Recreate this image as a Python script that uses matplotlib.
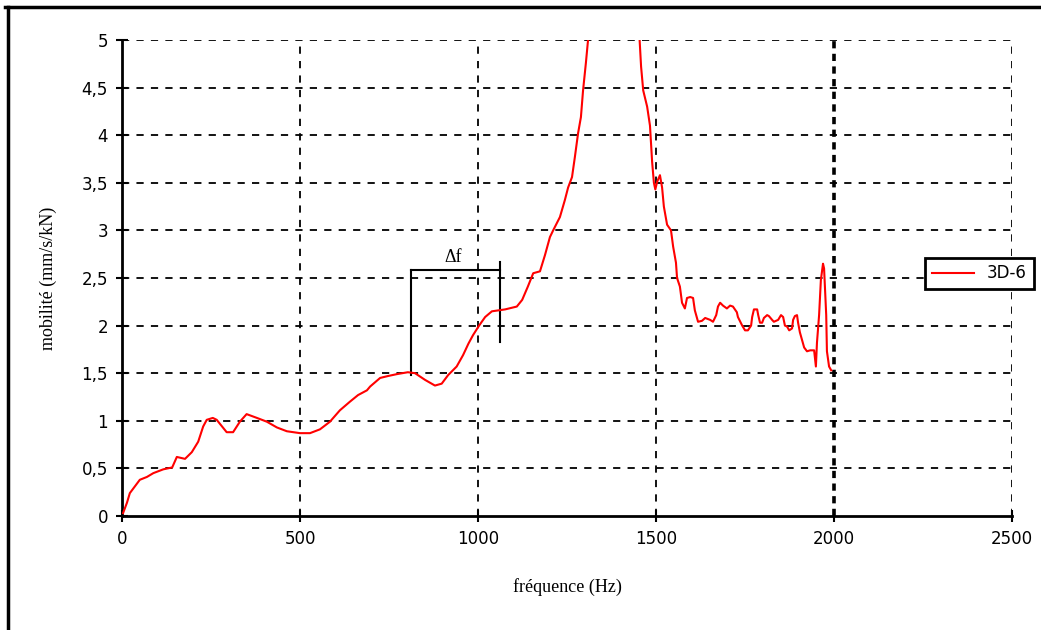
import matplotlib
matplotlib.use('Agg')
import matplotlib.pyplot as plt
from matplotlib.lines import Line2D
import numpy as np

# data (Hz, mm/s/kN)
freq = [3, 14, 22, 50, 70, 88, 116, 141, 154, 177, 196, 214, 228, 238, 255, 266, 294, 312,
        331, 350, 379, 407, 435, 463, 500, 528, 556, 584, 612, 640, 663, 688, 697, 725, 747,
        772, 803, 823, 851, 879, 898, 916, 940, 958, 973, 986, 1003, 1020, 1039, 1076, 1109,
        1124, 1140, 1155, 1174, 1188, 1202, 1211, 1230, 1244, 1253, 1264, 1272, 1281, 1289,
        1295, 1303, 1309, 1330, 1360, 1390, 1420, 1445, 1458, 1464, 1475, 1483, 1489, 1494,
        1498, 1503, 1511, 1517, 1522, 1531, 1542, 1548, 1556, 1559, 1567, 1573, 1581, 1587,
        1596, 1604, 1609, 1618, 1629, 1638, 1652, 1660, 1669, 1674, 1680, 1688, 1699, 1708,
        1716, 1727, 1730, 1742, 1750, 1758, 1767, 1770, 1775, 1784, 1787, 1792, 1798, 1803,
        1812, 1817, 1826, 1831, 1843, 1851, 1857, 1862, 1868, 1874, 1882, 1885, 1890, 1896,
        1899, 1904, 1910, 1916, 1924, 1933, 1944, 1949, 1952, 1958, 1963, 1969, 1972, 1978,
        1980, 1986, 1992]
mobilite = [0.03, 0.14, 0.24, 0.38, 0.41, 0.45, 0.49, 0.51, 0.62, 0.60, 0.67, 0.78, 0.94, 1.01,
            1.03, 1.01, 0.88, 0.88, 0.99, 1.07, 1.03, 0.99, 0.93, 0.89, 0.87, 0.87, 0.91, 0.99,
            1.11, 1.20, 1.27, 1.32, 1.36, 1.45, 1.47, 1.49, 1.51, 1.50, 1.43, 1.37, 1.39, 1.48,
            1.57, 1.69, 1.81, 1.90, 2.00, 2.09, 2.15, 2.17, 2.20, 2.27, 2.41, 2.55, 2.57, 2.74,
            2.93, 3.00, 3.14, 3.32, 3.45, 3.56, 3.77, 4.02, 4.19, 4.47, 4.76, 5.00, 6.0, 7.5,
            8.0, 6.8, 5.6, 4.72, 4.47, 4.30, 4.10, 3.72, 3.50, 3.43, 3.51, 3.58, 3.45, 3.25,
            3.06, 3.00, 2.83, 2.66, 2.50, 2.41, 2.24, 2.18, 2.29, 2.30, 2.29, 2.16, 2.04, 2.05,
            2.08, 2.06, 2.04, 2.11, 2.20, 2.24, 2.21, 2.18, 2.21, 2.20, 2.14, 2.09, 2.00, 1.95,
            1.95, 2.00, 2.09, 2.17, 2.17, 2.11, 2.03, 2.03, 2.08, 2.11, 2.10, 2.06, 2.04, 2.06,
            2.11, 2.09, 2.00, 1.99, 1.95, 1.97, 2.06, 2.10, 2.11, 2.03, 1.93, 1.85, 1.77, 1.73,
            1.74, 1.74, 1.57, 1.82, 2.11, 2.48, 2.65, 2.60, 2.11, 1.73, 1.57, 1.53]

xticks = [0, 500, 1000, 1500, 2000, 2500]
yticks = [0, 0.5, 1, 1.5, 2, 2.5, 3, 3.5, 4, 4.5, 5]
ytick_labels = ['0', '0,5', '1', '1,5', '2', '2,5', '3', '3,5', '4', '4,5', '5']

# delta f marker (Hz / mobilite)
df_left, df_right = 812, 1062
df_level = 2.58

fig = plt.figure(figsize=(10.41, 6.3), dpi=100)
ax = fig.add_axes([0.1172, 0.181, 0.855, 0.7555])

ax.plot(freq, mobilite, color='red', lw=1.5, label='3D-6', clip_on=True, zorder=3)

ax.set_xlim(0, 2500)
ax.set_ylim(0, 5)
ax.set_xticks(xticks)
ax.set_yticks(yticks)
ax.set_yticklabels(ytick_labels)
ax.tick_params(direction='inout', length=8, width=1.5, labelsize=12, pad=6)

for x in xticks[1:]:
    if x == 2000:
        ax.axvline(x, color='black', ls=(0, (2, 1.5)), lw=2.6, zorder=1)
    else:
        ax.axvline(x, color='black', ls=(0, (4, 4)), lw=1.3, zorder=1)
for y in yticks[1:]:
    ax.axhline(y, color='black', ls=(0, (4, 4)), lw=1.3, zorder=1)

for s in ['top', 'right']:
    ax.spines[s].set_visible(False)
for s in ['left', 'bottom']:
    ax.spines[s].set_linewidth(2)

# delta f bracket
ax.plot([df_left, df_left], [1.48, df_level], color='black', lw=1.5)
ax.plot([df_left, df_right], [df_level, df_level], color='black', lw=1.5)
ax.plot([df_right, df_right], [1.83, 2.67], color='black', lw=1.5)
ax.text(930, 2.63, 'Δf', ha='center', va='bottom', fontsize=13, family='Liberation Serif')

ax.set_xlabel('fréquence (Hz)', family='Liberation Serif', fontsize=13, labelpad=22)
ax.set_ylabel('mobilité (mm/s/kN)', family='Liberation Serif', fontsize=13, labelpad=18)

leg = fig.legend(handles=[Line2D([], [], color='red', lw=1.5)], labels=['3D-6'],
                 loc='center', bbox_to_anchor=(0.941, 0.566), frameon=True, fancybox=False,
                 framealpha=1, edgecolor='black', fontsize=12, handlelength=2.5, borderpad=0.4)
leg.get_frame().set_linewidth(2)

# outer chart frame (top and left)
fig.add_artist(Line2D([0.005, 1.0], [0.989, 0.989], color='black', lw=2.5))
fig.add_artist(Line2D([0.0075, 0.0075], [0.0, 0.989], color='black', lw=2.5))

fig.savefig('out.png', dpi=100)
